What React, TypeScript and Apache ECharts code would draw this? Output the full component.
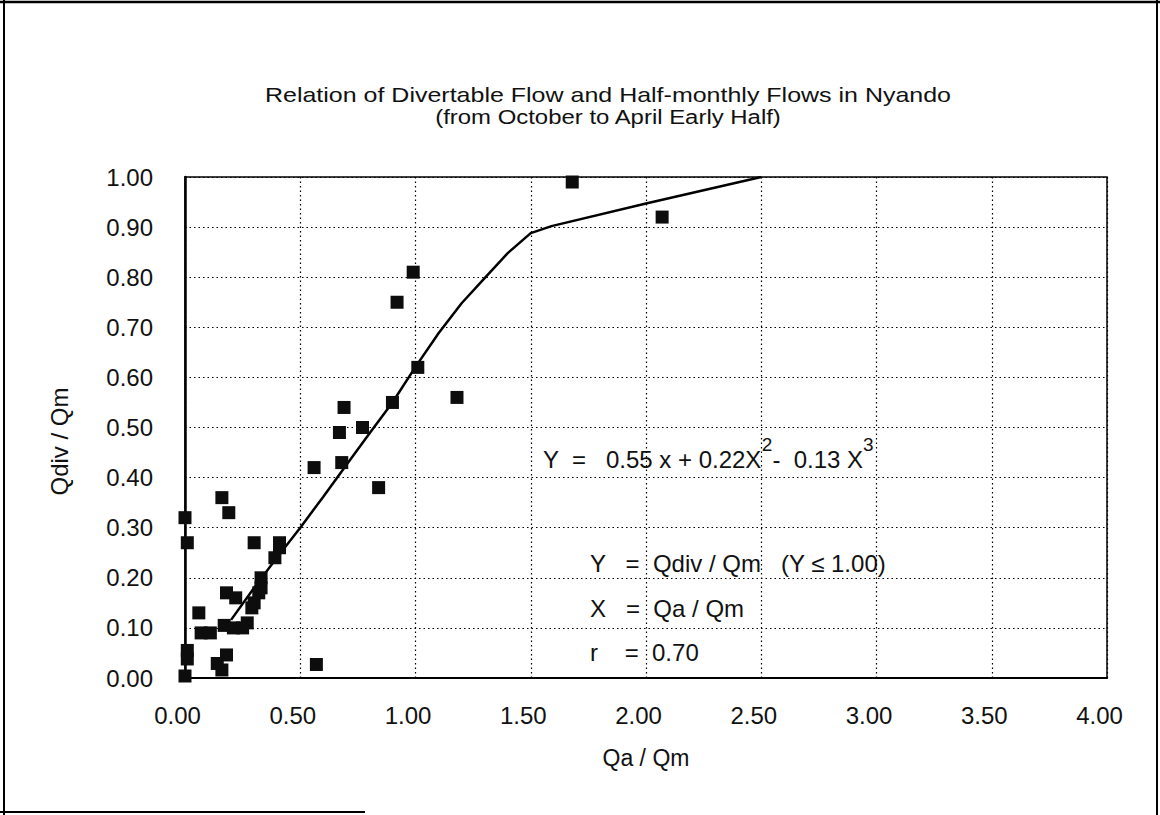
import React, { useEffect, useRef } from "react";
import * as echarts from "echarts";

const FONT = "'Liberation Sans', Arial, Helvetica, sans-serif";

const titleLines = [
  "Relation of Divertable Flow and Half-monthly Flows in Nyando",
  "(from October to April Early Half)",
];

// observed points (Qa/Qm, Qdiv/Qm)
const scatterX = [0.99, 0.92, 1.01, 0.90, 0.69, 1.18, 0.67, 0.77, 0.68, 0.56, 0.84, 0.16, 0.19, 0.00, 0.01, 0.30, 0.41, 0.41, 0.39, 0.33, 0.33, 0.32, 0.18, 0.22, 0.30, 0.29, 0.06, 0.07, 0.11, 0.17, 0.21, 0.25, 0.27, 0.01, 0.01, 0.18, 0.14, 0.16, 0.00, 0.57, 1.68, 2.07];
const scatterY = [0.81, 0.75, 0.62, 0.55, 0.54, 0.56, 0.49, 0.50, 0.43, 0.42, 0.38, 0.36, 0.33, 0.32, 0.27, 0.27, 0.27, 0.26, 0.24, 0.20, 0.18, 0.17, 0.17, 0.16, 0.15, 0.14, 0.13, 0.09, 0.09, 0.105, 0.10, 0.10, 0.11, 0.055, 0.038, 0.046, 0.029, 0.016, 0.004, 0.027, 0.99, 0.92];

// fitted curve
const curveX = [0.20, 0.30, 0.40, 0.50, 0.60, 0.70, 0.80, 0.90, 1.00, 1.10, 1.20, 1.30, 1.40, 1.50, 1.59, 2.00, 2.50];
const curveY = [0.116, 0.180, 0.241, 0.300, 0.362, 0.425, 0.488, 0.550, 0.621, 0.688, 0.748, 0.798, 0.848, 0.888, 0.902, 0.947, 1.000];

const xAxisMin = 0, xAxisMax = 4, xAxisStep = 0.5;
const yAxisMin = 0, yAxisMax = 1, yAxisStep = 0.1;
const xAxisName = "Qa / Qm";
const yAxisName = "Qdiv / Qm";

const eqText = "{m|Y  =   0.55 x + 0.22X}{s|2}{m|-  0.13 X}{s|3}";
const noteLines = ["Y   =  Qdiv / Qm   (Y ≤ 1.00)", "X   =  Qa / Qm", "r    =  0.70"];

export default function App() {
  const ref = useRef<HTMLDivElement>(null);
  useEffect(() => {
    if (!ref.current) return;
    const chart = echarts.init(ref.current, undefined, { renderer: "svg" });
    const grid = { left: 185, right: 53, top: 177, bottom: 137 };
    const dotted = { color: "#000", width: 1.2, type: [1.5, 3] as any };
    chart.setOption({
      animation: false,
      backgroundColor: "#fff",
      textStyle: { fontFamily: FONT },
      grid: { ...grid, show: true, borderColor: "#000", borderWidth: 1.5 },
      xAxis: {
        type: "value",
        min: xAxisMin,
        max: xAxisMax,
        interval: xAxisStep,
        axisLine: { show: true, onZero: false, lineStyle: { color: "#000", width: 2 } },
        axisTick: { show: false },
        splitLine: { show: true, lineStyle: dotted },
        axisLabel: {
          formatter: (v: number) => v.toFixed(2),
          fontSize: 24,
          color: "#111",
          fontFamily: FONT,
          margin: 25,
          padding: [0, 15, 0, 0],
        },
        name: xAxisName,
        nameLocation: "middle",
        nameGap: 68,
        nameTextStyle: { fontSize: 23, color: "#111", fontFamily: FONT },
      },
      yAxis: {
        type: "value",
        min: yAxisMin,
        max: yAxisMax,
        interval: yAxisStep,
        axisLine: { show: true, onZero: false, lineStyle: { color: "#000", width: 2.5 } },
        axisTick: { show: false },
        splitLine: { show: true, lineStyle: dotted },
        axisLabel: {
          formatter: (v: number) => v.toFixed(2),
          fontSize: 24,
          color: "#111",
          fontFamily: FONT,
          margin: 32,
          padding: [6, 0, 0, 0],
        },
        name: yAxisName,
        nameLocation: "middle",
        nameGap: 114,
        nameTextStyle: { fontSize: 24, color: "#111", fontFamily: FONT, padding: [0, 28, 0, 0] },
      },
      series: [
        {
          type: "line",
          data: curveX.map((x, i) => [x, curveY[i]]),
          showSymbol: false,
          symbol: "none",
          lineStyle: { color: "#000", width: 2.5 },
          z: 2,
        },
        {
          type: "scatter",
          data: scatterX.map((x, i) => [x, scatterY[i]]),
          symbol: "rect",
          symbolSize: 13,
          itemStyle: { color: "#0d0d0d", opacity: 1 },
          z: 3,
        },
      ],
      graphic: [
        { type: "line", shape: { x1: 0, y1: 2, x2: 1160, y2: 2 }, style: { stroke: "#000", lineWidth: 2.5 } },
        { type: "line", shape: { x1: 4, y1: 0, x2: 4, y2: 815 }, style: { stroke: "#000", lineWidth: 2 } },
        { type: "line", shape: { x1: 1157, y1: 0, x2: 1157, y2: 815 }, style: { stroke: "#000", lineWidth: 2 } },
        { type: "line", shape: { x1: 0, y1: 812, x2: 365, y2: 812 }, style: { stroke: "#000", lineWidth: 2 } },
        {
          type: "text",
          x: 608,
          y: 95,
          scaleX: 1.19,
          style: { text: titleLines[0], font: `21px ${FONT}`, fill: "#111", align: "center", verticalAlign: "middle" },
        },
        {
          type: "text",
          x: 608,
          y: 117,
          scaleX: 1.14,
          style: { text: titleLines[1], font: `21px ${FONT}`, fill: "#111", align: "center", verticalAlign: "middle" },
        },
        {
          type: "text",
          x: 543,
          y: 471.5,
          style: {
            text: eqText,
            fill: "#111",
            align: "left",
            verticalAlign: "bottom",
            rich: {
              m: { fontSize: 24, fontFamily: FONT, color: "#111", verticalAlign: "bottom" },
              s: { fontSize: 19, fontFamily: FONT, color: "#111", verticalAlign: "bottom", padding: [0, 0, 18, 0] },
            },
          },
        },
        ...noteLines.map((t, i) => ({
          type: "text",
          x: 590,
          y: [563, 608, 652][i],
          style: { text: t, font: `24px ${FONT}`, fill: "#111", align: "left", verticalAlign: "middle" },
        })),
      ],
    });
    return () => chart.dispose();
  }, []);
  return (
    <div
      ref={ref}
      style={{ position: "fixed", left: 0, top: 0, width: 1160, height: 815, background: "#fff" }}
    />
  );
}
